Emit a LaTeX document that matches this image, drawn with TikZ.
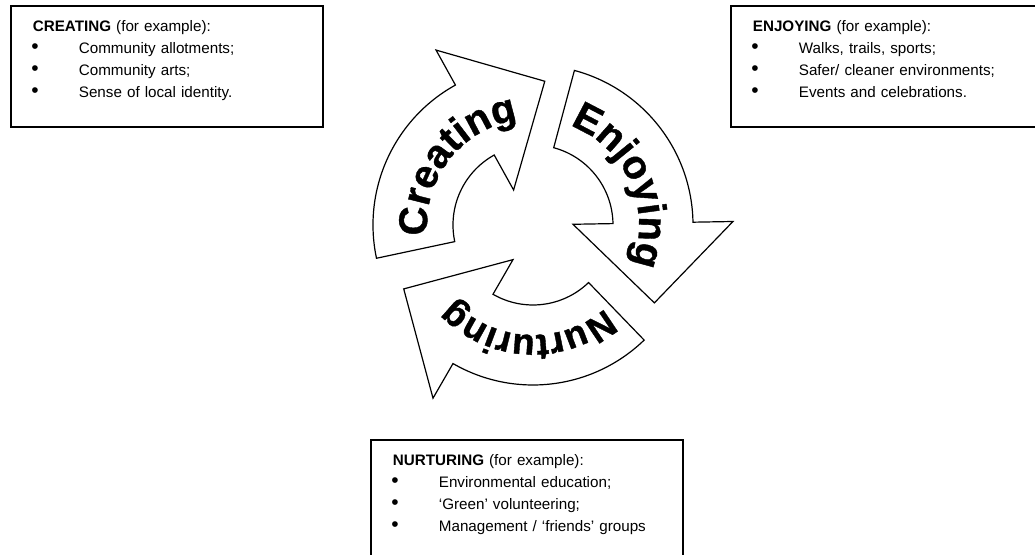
\documentclass[tikz,border=0pt]{standalone}
\usepackage{fontspec}
\setmainfont{Liberation Sans}
\newfontfamily\cycfamily[FakeBold=1]{Liberation Sans}
\usetikzlibrary{decorations.text}

\newcommand{\cycfont}[1][20]{\cycfamily\fontsize{#1}{#1}\selectfont\bfseries}
\newcommand{\boxbullet}{\makebox[23pt][l]{\hspace{-0.8pt}\fontsize{10.5}{10}\selectfont\textbullet}}
\newcommand{\lastline}{\rule[-7pt]{0pt}{7pt}}

\tikzset{
  examplebox/.style={draw, line width=0.9pt, anchor=north west, inner xsep=11pt, inner ysep=0pt,
    minimum height=60.5pt, text width=134pt, align=left, font=\fontsize{7.6}{11}\selectfont},
  cyclearrow/.style={draw, fill=white, line width=0.6pt},
  cycletext/.style={decorate, decoration={text along path, text align=center, text={#1}}}
}

\begin{document}
\begin{tikzpicture}[x=0.5pt, y=0.5pt]
	\useasboundingbox (0,0) rectangle (1035,555);
	\clip (0,0) rectangle (1035,555);

	\node[examplebox] (creatbox) at (10,550) {\textbf{CREATING} (for example):\\
		\boxbullet Community allotments;\\
		\boxbullet Community arts;\\
		\boxbullet Sense of local identity.\lastline};
	\node[examplebox] (enjoybox) at (730,550) {\textbf{ENJOYING} (for example):\\
		\boxbullet Walks, trails, sports;\\
		\boxbullet Safer/ cleaner environments;\\
		\boxbullet Events and celebrations.\lastline};
	\node[examplebox] (nurturbox) at (370,116) {\textbf{NURTURING} (for example):\\
		\boxbullet Environmental education;\\
		\boxbullet `Green' volunteering;\\
		\boxbullet Management / `friends' groups\lastline};

	\begin{scope}[shift={(533,330)}]
		\foreach \tail/\head in {192/119, 75/1, -46/-120}
			\draw[cyclearrow] (\tail:160) arc[start angle=\tail, end angle=\head, radius=160]
				-- (\head:200) -- ([shift={(\head-90:80)}] \head:120) -- (\head:40) -- (\head:80)
				arc[start angle=\head, end angle=\tail, radius=80] -- cycle;

		\path[cycletext={|\cycfont|Creating}] (202:106) arc[start angle=202, end angle=82, radius=106];
		\path[cycletext={|\cycfont|Enjoying}] (84:106) arc[start angle=84, end angle=-36, radius=106];
		\path[cycletext={|\cycfont[18.5]|Nurturing}] (-33:110) arc[start angle=-33, end angle=-153, radius=110];
	\end{scope}
\end{tikzpicture}
\end{document}
